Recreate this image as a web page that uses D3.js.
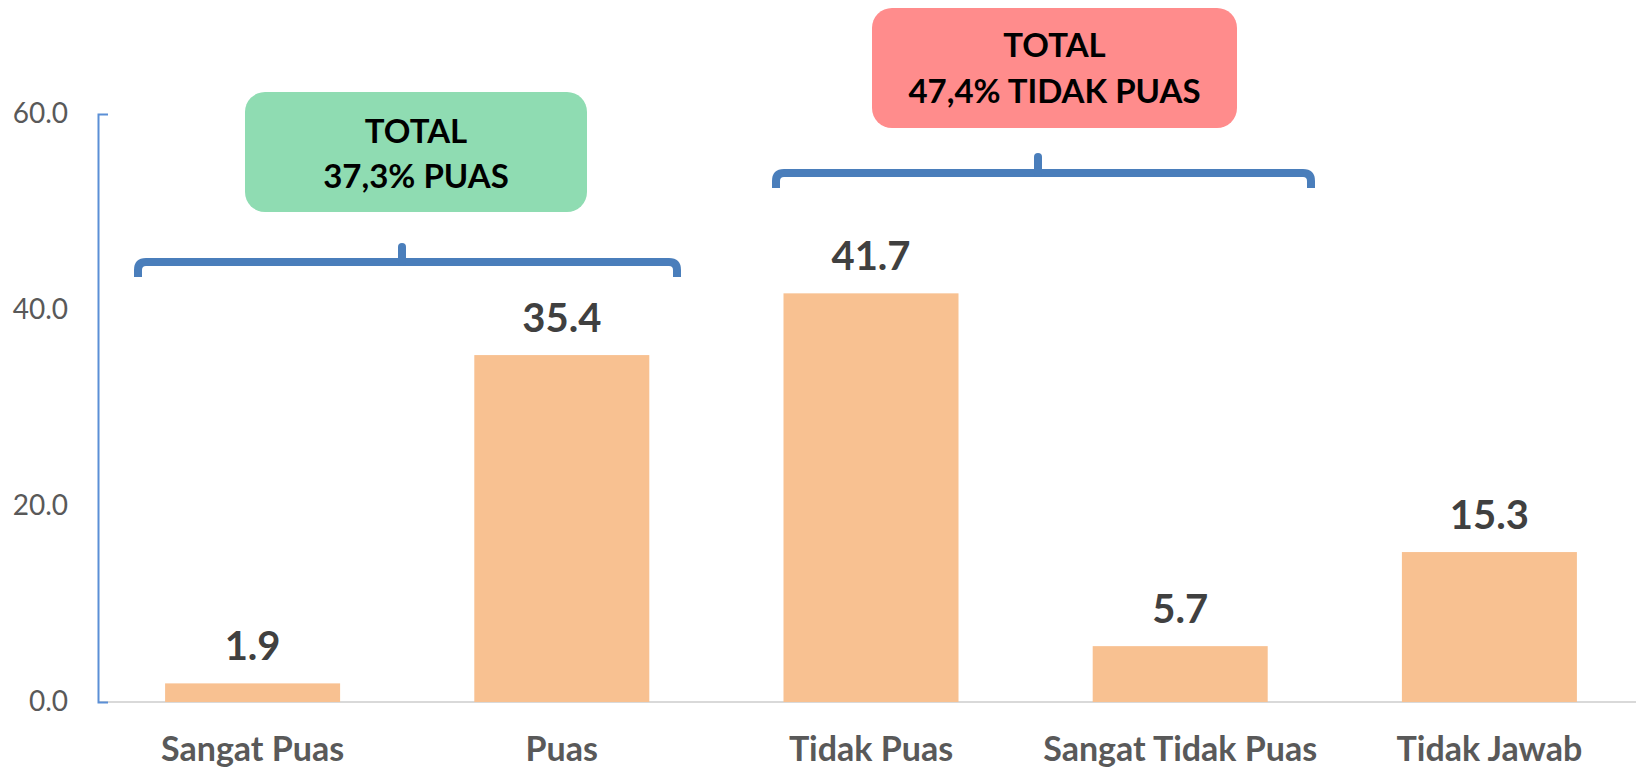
<!DOCTYPE html>
<html>
<head>
<meta charset="utf-8">
<script src="https://cdn.jsdelivr.net/npm/d3@7/dist/d3.min.js"></script>
<style>
  html, body { margin: 0; padding: 0; background: #ffffff; }
  svg { display: block; font-family: Lato, "Open Sans", sans-serif; }
</style>
</head>
<body>
<svg id="chart" width="1636" height="768"></svg>
<script>
// Survey responses (%)
const categories = ["Sangat Puas", "Puas", "Tidak Puas", "Sangat Tidak Puas", "Tidak Jawab"];
const values = [1.9, 35.4, 41.7, 5.7, 15.3];
const tickValues = [0, 20, 40, 60];

// Grouped totals shown above the bars
const groupLabels = [["TOTAL", "37,3% PUAS"], ["TOTAL", "47,4% TIDAK PUAS"]];

const svg = d3.select("#chart");
const W = 1636;

const y = d3.scaleLinear().domain([0, 60]).range([702, 114]);
const x = d3.scaleBand().domain(categories).range([98, 1644])
  .paddingInner(0.434).paddingOuter(0.217);

// x baseline
svg.append("line")
  .attr("x1", 98).attr("x2", W)
  .attr("y1", y(0)).attr("y2", y(0))
  .attr("stroke", "#d9d9d9").attr("stroke-width", 2);

// y axis
const yAxis = svg.append("g")
  .attr("transform", "translate(98,0)")
  .call(d3.axisLeft(y).tickValues(tickValues).tickFormat(d3.format(".1f"))
    .tickSizeInner(0).tickSizeOuter(-10).tickPadding(30));
yAxis.select(".domain").attr("stroke", "#5b8fd6").attr("stroke-width", 2);
yAxis.selectAll(".tick text")
  .attr("fill", "#595959").attr("font-size", 28)
  .attr("font-family", "Lato, sans-serif");

// bars
svg.append("g").selectAll("rect")
  .data(values)
  .join("rect")
  .attr("x", (d, i) => x(categories[i]))
  .attr("width", x.bandwidth())
  .attr("y", d => y(d))
  .attr("height", d => y(0) - y(d))
  .attr("fill", "#f8c191");

// value labels
svg.append("g").selectAll("text")
  .data(values)
  .join("text")
  .attr("x", (d, i) => x(categories[i]) + x.bandwidth() / 2)
  .attr("y", d => y(d) - 23)
  .attr("text-anchor", "middle")
  .attr("font-size", 40).attr("font-weight", 700)
  .attr("fill", "#404040")
  .text(d => d.toFixed(1));

// category labels
svg.append("g").selectAll("text")
  .data(categories)
  .join("text")
  .attr("x", d => x(d) + x.bandwidth() / 2)
  .attr("y", 761)
  .attr("text-anchor", "middle")
  .attr("font-size", 34).attr("font-weight", 700)
  .attr("fill", "#595959")
  .text(d => d);

// braces grouping the bars
const braces = [
  { x0: 138, x1: 677, peak: 402, yLine: 262, yEnd: 277, yTop: 247 },
  { x0: 776, x1: 1311, peak: 1038, yLine: 173, yEnd: 188, yTop: 157 }
];
const r = 8;
braces.forEach(b => {
  const p = d3.path();
  p.moveTo(b.x0, b.yEnd);
  p.lineTo(b.x0, b.yLine + r);
  p.quadraticCurveTo(b.x0, b.yLine, b.x0 + r, b.yLine);
  p.lineTo(b.x1 - r, b.yLine);
  p.quadraticCurveTo(b.x1, b.yLine, b.x1, b.yLine + r);
  p.lineTo(b.x1, b.yEnd);
  svg.append("path").attr("d", p.toString())
    .attr("fill", "none").attr("stroke", "#4a7ebb")
    .attr("stroke-width", 8).attr("stroke-linejoin", "round");
  svg.append("line")
    .attr("x1", b.peak).attr("x2", b.peak)
    .attr("y1", b.yLine).attr("y2", b.yTop)
    .attr("stroke", "#4a7ebb").attr("stroke-width", 8)
    .attr("stroke-linecap", "round");
});

// total callout boxes
const boxes = [
  { x: 245, y: 92, w: 342, h: 120, fill: "#8fdcb2", base: [143, 188] },
  { x: 872, y: 8, w: 365, h: 120, fill: "#ff8c8c", base: [57, 103] }
];
boxes.forEach((b, i) => {
  svg.append("rect")
    .attr("x", b.x).attr("y", b.y).attr("width", b.w).attr("height", b.h)
    .attr("rx", 20).attr("ry", 20).attr("fill", b.fill);
  groupLabels[i].forEach((t, j) => {
    svg.append("text")
      .attr("x", b.x + b.w / 2).attr("y", b.base[j])
      .attr("text-anchor", "middle")
      .attr("font-size", 33).attr("font-weight", 700)
      .attr("fill", "#000000")
      .text(t);
  });
});
</script>
</body>
</html>
